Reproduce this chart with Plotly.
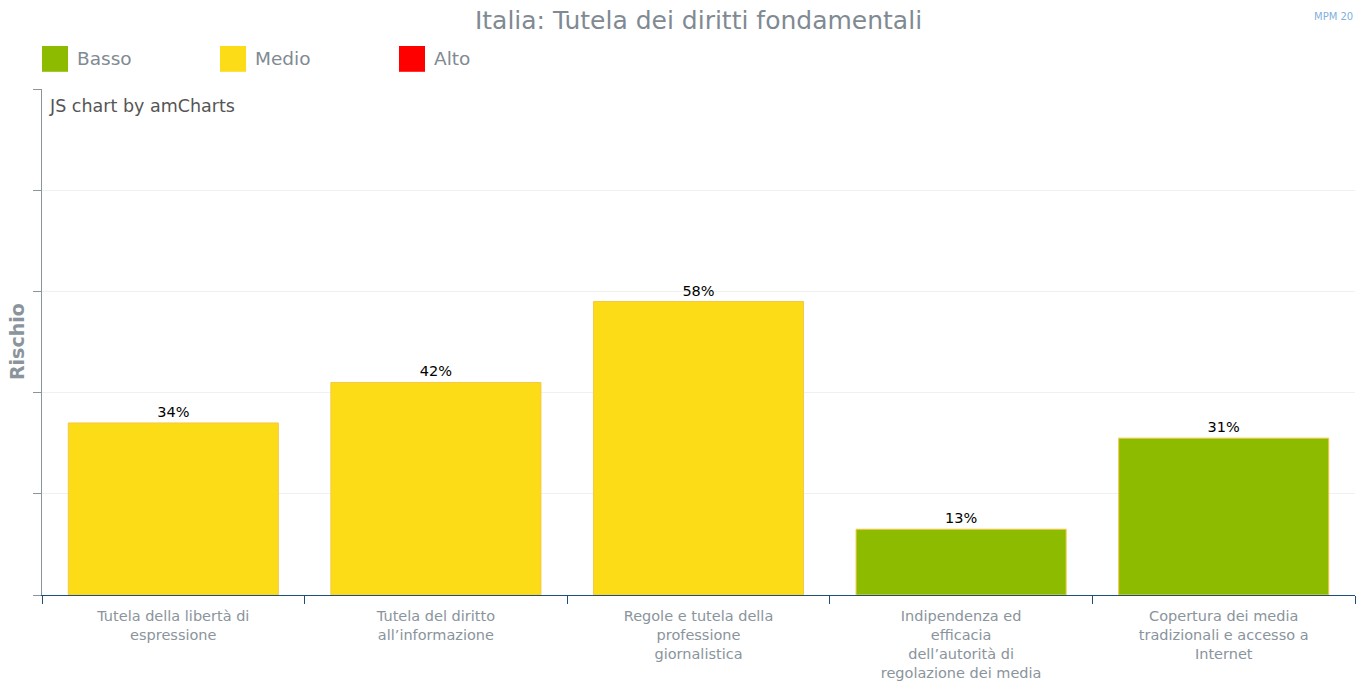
import plotly.graph_objects as go

# Risk per area (percent)
categories = [
    "Tutela della libertà di<br>espressione",
    "Tutela del diritto<br>all’informazione",
    "Regole e tutela della<br>professione<br>giornalistica",
    "Indipendenza ed<br>efficacia<br>dell’autorità di<br>regolazione dei media",
    "Copertura dei media<br>tradizionali e accesso a<br>Internet",
]
values = [34, 42, 58, 13, 31]
levels = ["Medio", "Medio", "Medio", "Basso", "Basso"]

legend_labels = ["Basso", "Medio", "Alto"]
_COLORS = {"Basso": "#8dbb00", "Medio": "#fcdb17", "Alto": "#ff0000"}
_GREY = "#7f8a93"

fig = go.Figure(
    go.Bar(
        x=categories,
        y=values,
        width=0.8,
        marker={
            "color": [_COLORS[lv] for lv in levels],
            "line": {"color": "#f5c84a", "width": 1},
        },
        text=[f"{v}%" for v in values],
        textposition="outside",
        textfont={"size": 14.5, "color": "#000000"},
        cliponaxis=False,
        showlegend=False,
        hoverinfo="x+y",
    )
)

# hand-drawn legend with big squares, like the amCharts original
legend_x = [0.0, 0.1356, 0.2719]
for label, x0 in zip(legend_labels, legend_x):
    fig.add_shape(
        type="rect", xref="paper", yref="paper",
        x0=x0, x1=x0 + 0.0198, y0=1.034, y1=1.085,
        fillcolor=_COLORS[label], line={"width": 0},
    )
    fig.add_annotation(
        x=x0 + 0.0253, y=1.06, xref="paper", yref="paper",
        text=label, showarrow=False, xanchor="left", yanchor="middle",
        font={"size": 18.5, "color": _GREY},
    )

fig.add_annotation(
    x=0.004, y=0.99, xref="paper", yref="paper",
    text="JS chart by amCharts", showarrow=False,
    xanchor="left", yanchor="top", font={"size": 17.5, "color": "#555555"},
)
fig.add_annotation(
    x=1.0, y=1.144, xref="paper", yref="paper",
    text="MPM 20", showarrow=False, xanchor="right", yanchor="middle",
    font={"size": 10, "color": "#7fb0de"},
)
fig.add_annotation(
    x=-0.019, y=0.5, xref="paper", yref="paper",
    text="<b>Rischio</b>", showarrow=False, textangle=-90,
    xanchor="center", yanchor="middle",
    font={"size": 19, "color": "#8a949c"},
)

fig.update_layout(
    width=1358,
    height=686,
    margin={"l": 42, "r": 3, "t": 89, "b": 91, "autoexpand": False},
    paper_bgcolor="white",
    plot_bgcolor="white",
    font={"family": "DejaVu Sans", "color": _GREY},
    title={
        "text": "Italia: Tutela dei diritti fondamentali",
        "x": 0.5, "xref": "paper", "xanchor": "center",
        "y": 0.971, "yanchor": "middle",
        "font": {"size": 25, "color": _GREY},
    },
    bargap=0.2,
    xaxis={
        "type": "category",
        "range": [-0.5, 4.5],
        "showline": True,
        "linecolor": "#1d4f7a",
        "linewidth": 1,
        "ticks": "outside",
        "tickson": "boundaries",
        "ticklen": 8,
        "tickcolor": "#1d4f7a",
        "tickfont": {"size": 14.5, "color": "#8a949c"},
        "ticklabelstandoff": 8,
        "showgrid": False,
        "automargin": False,
    },
    yaxis={
        "range": [0, 100],
        "tickvals": [0, 20, 40, 60, 80, 100],
        "showticklabels": False,
        "ticks": "outside",
        "ticklen": 8,
        "tickcolor": "#8a949c",
        "showline": True,
        "linecolor": "#8a949c",
        "linewidth": 1,
        "showgrid": True,
        "gridcolor": "#f0f0f0",
        "zeroline": False,
        "automargin": False,
    },
)

# the page body has a default 8px margin; drop it so the chart sits at 0,0
fig.write_html(
    "out.html",
    config={"displayModeBar": False},
    post_script="document.body.style.margin='0';",
)
